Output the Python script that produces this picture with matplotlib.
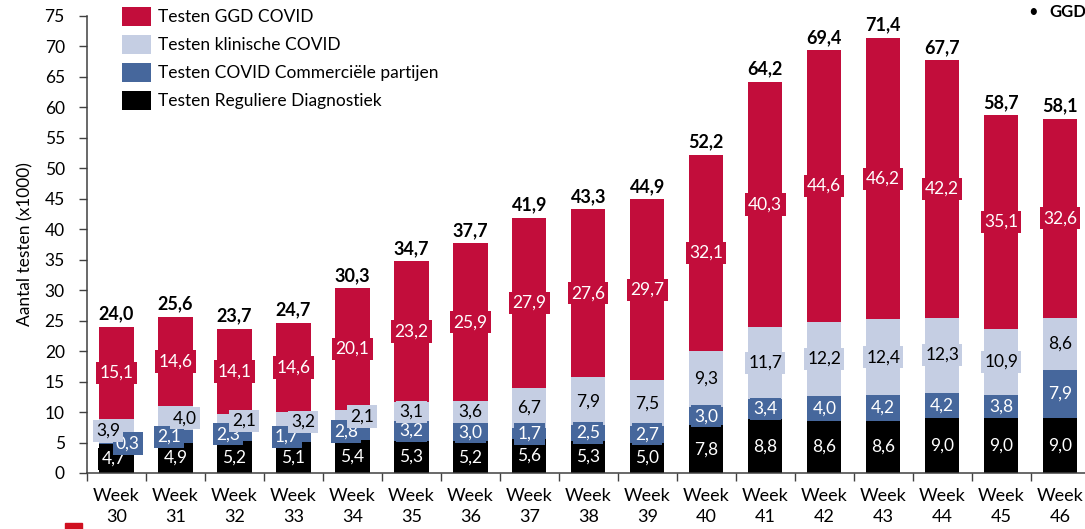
import matplotlib.pyplot as plt
import matplotlib.patches as mpatches
import numpy as np

plt.rcParams['font.family'] = ['Lato', 'DejaVu Sans']

weeks = ['30', '31', '32', '33', '34', '35', '36', '37', '38', '39',
         '40', '41', '42', '43', '44', '45', '46']
regulier = [4.7, 4.9, 5.2, 5.1, 5.4, 5.3, 5.2, 5.6, 5.3, 5.0, 7.8, 8.8, 8.6, 8.6, 9.0, 9.0, 9.0]
commercieel = [0.3, 2.1, 2.3, 1.7, 2.8, 3.2, 3.0, 1.7, 2.5, 2.7, 3.0, 3.4, 4.0, 4.2, 4.2, 3.8, 7.9]
klinisch = [3.9, 4.0, 2.1, 3.2, 2.1, 3.1, 3.6, 6.7, 7.9, 7.5, 9.3, 11.7, 12.2, 12.4, 12.3, 10.9, 8.6]
ggd = [15.1, 14.6, 14.1, 14.6, 20.1, 23.2, 25.9, 27.9, 27.6, 29.7, 32.1, 40.3, 44.6, 46.2, 42.2, 35.1, 32.6]
totaal = [24.0, 25.6, 23.7, 24.7, 30.3, 34.7, 37.7, 41.9, 43.3, 44.9, 52.2, 64.2, 69.4, 71.4, 67.7, 58.7, 58.1]

c_red = '#C20D3B'
c_light = '#C5CEE3'
c_blue = '#46679C'
c_black = '#000000'

fig = plt.figure(figsize=(10.85, 5.29), dpi=100)
ax = fig.add_axes([0.0802, 0.1059, 0.9198, 0.8639])

x = np.arange(len(weeks))
w = 0.58
b1 = np.array(regulier)
b2 = b1 + np.array(commercieel)
b3 = b2 + np.array(klinisch)

ax.bar(x, regulier, w, color=c_black, label='Testen Reguliere Diagnostiek', zorder=2)
ax.bar(x, commercieel, w, bottom=b1, color=c_blue, label='Testen COVID Commerciële partijen', zorder=2)
ax.bar(x, klinisch, w, bottom=b2, color=c_light, label='Testen klinische COVID', zorder=2)
ax.bar(x, ggd, w, bottom=b3, color=c_red, label='Testen GGD COVID', zorder=2)


def fmt(v):
    return f'{v:.1f}'.replace('.', ',')


def lab(xx, yy, v, fc, tc):
    ax.text(xx, yy, fmt(v), ha='center', va='center', fontsize=12.5, color=tc, zorder=4,
            bbox=dict(boxstyle='square,pad=0.18', fc=fc, ec='none'))


for i in x:
    yb = regulier[i] / 2
    yc = b1[i] + commercieel[i] / 2
    yk = b2[i] + klinisch[i] / 2
    yg = b3[i] + ggd[i] / 2
    # crowded small segments: push labels sideways
    dx_k, dx_c, dx_b = 0, 0, 0
    if yk - yc < 3.1:
        if commercieel[i] < 1:
            dx_k, dx_c, dx_b = -0.14, 0.19, -0.05
        else:
            dx_k, dx_c = 0.16, -0.11
    lab(i + dx_b, yb, regulier[i], c_black, 'white')
    lab(i + dx_c, yc, commercieel[i], c_blue, 'white')
    lab(i + dx_k, yk, klinisch[i], c_light, 'black')
    lab(i, yg, ggd[i], c_red, 'white')
    ax.text(i, totaal[i] + 0.7, fmt(totaal[i]), ha='center', va='bottom',
            fontsize=13, fontweight='bold', zorder=4)

ax.set_xlim(-0.5, 16.42)
ax.set_ylim(0, 75)
ax.set_yticks(np.arange(0, 76, 5))
ax.tick_params(axis='y', labelsize=12.5, length=6, width=1, color='#404040', pad=10)
ax.set_xticks(np.arange(-0.5, 16.5, 1))
ax.set_xticklabels([])
ax.tick_params(axis='x', which='major', length=6, width=1, color='#404040')
ax.set_xticks(x, minor=True)
ax.set_xticklabels(['Week\n' + wk for wk in weeks], minor=True, fontsize=13, linespacing=1.4)
ax.tick_params(axis='x', which='minor', length=0, pad=11)
ax.set_ylabel('Aantal testen (x1000)', fontsize=12.5, labelpad=8)

for s in ['top', 'right']:
    ax.spines[s].set_visible(False)
for s in ['left', 'bottom']:
    ax.spines[s].set_color('#404040')
    ax.spines[s].set_linewidth(1.1)

h, l = ax.get_legend_handles_labels()
ax.legend(h[::-1], l[::-1], loc='upper left', bbox_to_anchor=(0.035, 1.02), frameon=False,
          fontsize=12.5, handlelength=1.65, handleheight=1.3, labelspacing=0.52,
          handletextpad=0.45, borderpad=0, borderaxespad=0)

fig.text(0.952, 0.977, '•', fontsize=12, ha='center', va='center')
fig.text(0.967, 0.977, 'GGD', fontsize=12, fontweight='bold', ha='left', va='center')
fig.patches.append(mpatches.Rectangle((0.06, 0.0), 0.016, 0.012, transform=fig.transFigure,
                                      color='#D01020', figure=fig))

fig.savefig('out.png', dpi=100)
